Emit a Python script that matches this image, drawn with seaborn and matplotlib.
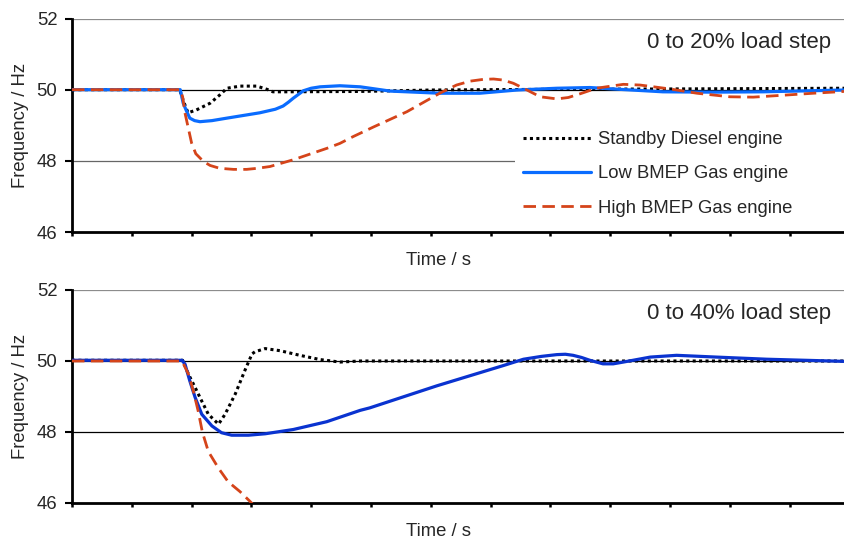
import numpy as np
import pandas as pd
import matplotlib
matplotlib.use("Agg")
import matplotlib.pyplot as plt
import seaborn as sns

# ---- data: generator frequency after a load step (time in s, frequency in Hz) ----
series_names = ["Standby Diesel engine", "Low BMEP Gas engine", "High BMEP Gas engine"]

# 0 to 20% load step
t20_diesel = [0, 1.80, 1.87, 1.94, 2.08, 2.31, 2.47, 2.59, 2.81, 3.09, 3.26, 3.36, 3.60,
              4.82, 6.00, 8.00, 10.00, 12.91]
f20_diesel = [50.0, 50.0, 49.65, 49.35, 49.43, 49.62, 49.85, 50.04, 50.10, 50.10, 50.01,
              49.94, 49.94, 49.95, 49.99, 50.01, 50.02, 50.04]

t20_low = [0, 1.81, 1.86, 1.92, 1.97, 2.05, 2.14, 2.34, 2.59, 3.14, 3.40, 3.53, 3.62, 3.70,
           3.87, 4.00, 4.15, 4.48, 4.82, 5.32, 6.15, 6.82, 7.44, 8.11, 8.66, 9.05, 9.88,
           10.72, 11.56, 12.91]
f20_low = [50.0, 50.0, 49.62, 49.38, 49.20, 49.13, 49.10, 49.13, 49.20, 49.35, 49.45, 49.54,
           49.65, 49.76, 49.97, 50.04, 50.08, 50.11, 50.08, 49.96, 49.90, 49.90, 49.99, 50.04,
           50.06, 50.02, 49.94, 49.93, 49.94, 49.99]

t20_high = [0, 1.81, 1.85, 1.89, 2.00, 2.07, 2.20, 2.31, 2.47, 2.70, 2.92, 3.10, 3.31, 3.70,
            4.26, 4.48, 4.70, 5.04, 5.60, 6.15, 6.43, 6.66, 6.88, 7.05, 7.21, 7.38, 7.55,
            7.83, 8.11, 8.30, 8.49, 8.77, 9.22, 9.50, 10.00, 10.45, 11.00, 11.39, 11.95,
            12.40, 12.91]
f20_high = [50.0, 50.0, 49.80, 49.34, 48.50, 48.20, 47.98, 47.87, 47.79, 47.76, 47.76, 47.79,
            47.84, 48.03, 48.35, 48.49, 48.68, 48.95, 49.38, 49.90, 50.13, 50.24, 50.29,
            50.30, 50.27, 50.18, 50.04, 49.80, 49.74, 49.78, 49.88, 50.04, 50.15, 50.13,
            50.02, 49.90, 49.80, 49.79, 49.85, 49.90, 49.95]

# 0 to 40% load step
t40_diesel = [0, 1.85, 1.95, 2.06, 2.17, 2.28, 2.45, 2.56, 2.73, 2.89, 3.01, 3.06, 3.23,
              3.48, 3.81, 4.15, 4.48, 4.82, 12.91]
f40_diesel = [50.02, 50.02, 49.62, 49.25, 48.87, 48.50, 48.22, 48.50, 49.07, 49.73, 50.20,
              50.26, 50.35, 50.29, 50.16, 50.04, 49.97, 50.0, 50.0]

t40_low = [0, 1.84, 1.89, 1.97, 2.06, 2.17, 2.34, 2.50, 2.67, 2.95, 3.23, 3.70, 4.26, 4.82,
           4.98, 6.10, 7.21, 7.55, 7.85, 8.11, 8.25, 8.38, 8.52, 8.66, 8.88, 9.05, 9.22,
           9.67, 10.11, 10.78, 11.62, 12.91]
f40_low = [50.02, 50.02, 49.91, 49.44, 48.97, 48.50, 48.17, 47.98, 47.91, 47.91, 47.95, 48.07,
           48.29, 48.61, 48.68, 49.30, 49.87, 50.05, 50.13, 50.18, 50.19, 50.16, 50.10, 50.02,
           49.92, 49.92, 49.97, 50.11, 50.16, 50.11, 50.05, 49.99]

t40_high = [0, 1.84, 1.95, 2.03, 2.11, 2.18, 2.28, 2.45, 2.61, 2.81, 2.98, 3.03]
f40_high = [50.0, 50.0, 49.62, 49.15, 48.59, 48.00, 47.45, 46.98, 46.60, 46.32, 46.04, 45.95]

y_ticks = [46, 48, 50, 52]
x_ticks = list(range(0, 13))
panel_titles = ["0 to 20% load step", "0 to 40% load step"]

# ---- styling ----
sns.set_style("white")
plt.rcParams["font.family"] = ["Liberation Sans", "DejaVu Sans"]
FS = 13.3

fig = plt.figure(figsize=(8.44, 5.43), dpi=100)
W, H = 844, 543
ax_top = fig.add_axes([72 / W, 1 - 232 / H, 772 / W, 213.5 / H])
ax_bot = fig.add_axes([72 / W, 1 - 503 / H, 772 / W, 213 / H])

diesel_style = dict(color="black", lw=2.2, linestyle=(0, (1.0, 1.1)), dash_capstyle="butt")
high_style = dict(color="#d5441a", lw=2.0, linestyle=(0, (4.5, 2.3)), dash_capstyle="butt")

panels = [
    (ax_top, [(t20_diesel, f20_diesel, diesel_style),
              (t20_low, f20_low, dict(color="#0a6cff", lw=2.3)),
              (t20_high, f20_high, high_style)],
     {52: "#8c8c8c", 50: "black", 48: "#666666"}),
    (ax_bot, [(t40_diesel, f40_diesel, diesel_style),
              (t40_low, f40_low, dict(color="#0a33d0", lw=2.3)),
              (t40_high, f40_high, high_style)],
     {52: "#8c8c8c", 50: "black", 48: "black"}),
]

for (ax, lines, grid_colors), title in zip(panels, panel_titles):
    for level, col in grid_colors.items():
        ax.axhline(level, color=col, lw=0.9, zorder=1)
    for (t, f, style), name in zip(lines, series_names):
        df = pd.DataFrame({"Time / s": t, "Frequency / Hz": f})
        sns.lineplot(data=df, x="Time / s", y="Frequency / Hz", ax=ax,
                     errorbar=None, label=name, zorder=3, **style)
    ax.set_xlim(0, 12.91)
    ax.set_ylim(46, 52)
    ax.set_yticks(y_ticks)
    ax.set_xticks(x_ticks)
    ax.set_xticklabels([])
    ax.tick_params(axis="y", direction="out", length=5, width=1.5, pad=5.5,
                   labelsize=FS, left=True, color="black")
    ax.tick_params(axis="x", direction="out", length=3, width=1.8, bottom=True,
                   color="black")
    for side in ("top", "right"):
        ax.spines[side].set_visible(False)
    for side in ("left", "bottom"):
        ax.spines[side].set_color("black")
        ax.spines[side].set_linewidth(2.0)
    ax.set_xlabel("Time / s", fontsize=FS, va="top")
    ax.xaxis.set_label_coords((438 - 72) / 772, -0.094)
    ax.set_ylabel("Frequency / Hz", fontsize=FS, va="center")
    ax.yaxis.set_label_coords((21 - 72) / 772, 0.5)
    ax.text(0.983, 0.862, title, transform=ax.transAxes, ha="right", va="baseline",
            fontsize=16)
    if ax.get_legend() is not None:
        ax.get_legend().remove()

# legend box reaches the right edge of the panel, hiding the 48 Hz line beneath it
leg_x0 = 514.7 / W
leg_top = 1 - 123 / H
leg = ax_top.legend(loc="upper left", bbox_to_anchor=(leg_x0, leg_top - 0.3, 1.0 - leg_x0, 0.3),
                    bbox_transform=fig.transFigure, mode="expand", borderaxespad=0,
                    fontsize=FS, frameon=True, fancybox=False, framealpha=1,
                    facecolor="white", edgecolor="none",
                    borderpad=0.45, handlelength=3.7, handletextpad=0.38,
                    labelspacing=0.93)

fig.savefig("out.png", dpi=100)
